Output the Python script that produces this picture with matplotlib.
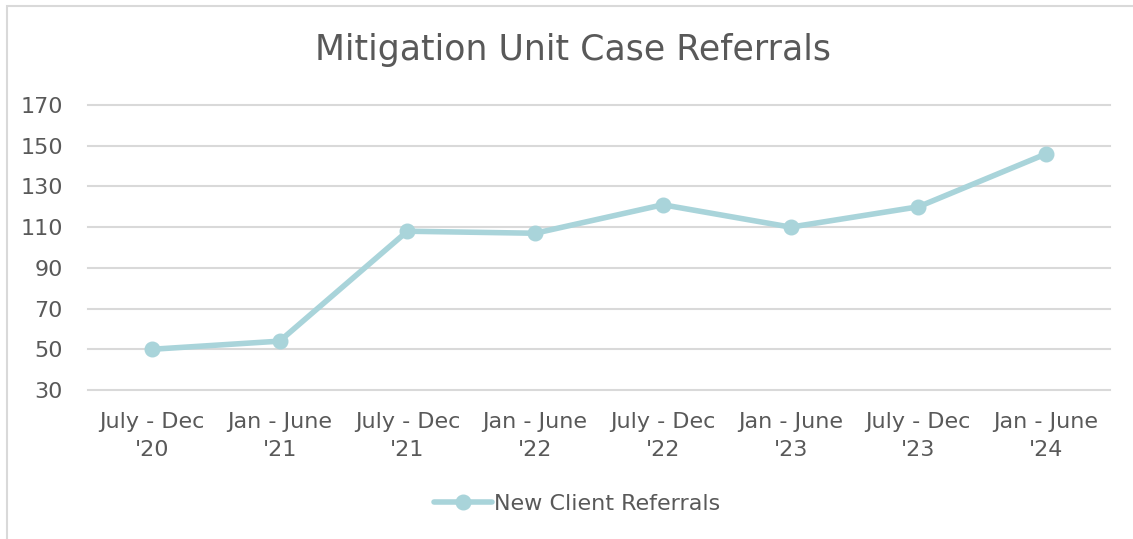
import matplotlib.pyplot as plt
from matplotlib.patches import Rectangle

# data ------------------------------------------------------------------------
periods = ["July - Dec\n'20", "Jan - June\n'21", "July - Dec\n'21", "Jan - June\n'22",
           "July - Dec\n'22", "Jan - June\n'23", "July - Dec\n'23", "Jan - June\n'24"]
referrals = [50, 54, 108, 107, 121, 110, 120, 146]
yticks = [30, 50, 70, 90, 110, 130, 150, 170]

line_col = "#A9D4DA"
text_col = "#595959"
grid_col = "#D9D9D9"

plt.rcParams['font.family'] = ['DejaVu Sans']

fig = plt.figure(figsize=(11.33, 5.39), dpi=100)
ax = fig.add_axes([88/1133, 1 - 390/539, (1110 - 88)/1133, (390 - 105)/539])

x = list(range(len(periods)))
ax.plot(x, referrals, color=line_col, linewidth=4, marker="o", markersize=10.5,
        label="New Client Referrals", solid_capstyle="round", zorder=3)

ax.set_xlim(-0.5, len(periods) - 0.5)
ax.set_ylim(30, 170)
ax.set_yticks(yticks)
ax.set_xticks(x)
ax.set_xticklabels(periods, linespacing=1.5)
ax.tick_params(axis="both", length=0, labelsize=16, colors=text_col)
ax.tick_params(axis="x", pad=16)
ax.tick_params(axis="y", pad=18)
ax.grid(axis="y", color=grid_col, linewidth=1.5)
for gl in ax.get_ygridlines():
    gl.set_clip_on(False)
ax.set_axisbelow(True)
for s in ax.spines.values():
    s.set_visible(False)

fig.text(573/1133, 1 - 50/539, "Mitigation Unit Case Referrals", ha="center", va="center",
         fontsize=25, color=text_col)

leg = fig.legend(loc="center", bbox_to_anchor=(577/1133, 1 - 504/539), frameon=False,
                 fontsize=16, labelcolor=text_col, handlelength=2.6, handletextpad=0.1)

# chart border
fig.patches.append(Rectangle((7/1133, -0.05), 1.1, 1 - 6/539 + 0.05, transform=fig.transFigure,
                             fill=False, edgecolor="#D9D9D9", linewidth=1.5))

fig.savefig("out.png", dpi=100)
